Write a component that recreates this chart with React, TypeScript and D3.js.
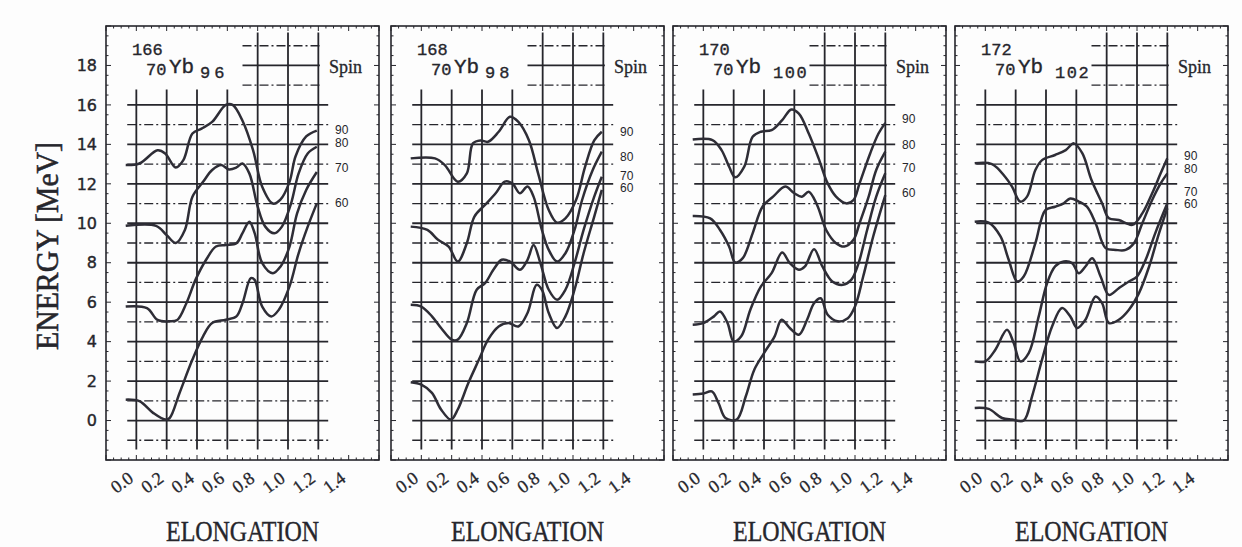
import React from "react";
import * as d3 from "d3";

// ---------- data (energy in MeV vs elongation) ----------
type Pt = [number, number];

const elongTicks = [0.0, 0.2, 0.4, 0.6, 0.8, 1.0, 1.2, 1.4];
const energyTicks = [0, 2, 4, 6, 8, 10, 12, 14, 16, 18];
const gridX = [0.0, 0.2, 0.4, 0.6, 0.8, 1.0, 1.2];
const spins = [90, 80, 70, 60];

// 166Yb96
const yb166_s90: Pt[] = [[-0.07,12.95],[0.02,13.03],[0.14,13.7],[0.19,13.54],[0.26,12.83],[0.31,13.2],[0.37,14.55],[0.43,14.8],[0.5,15.14],[0.59,16.0],[0.635,16.0],[0.7,15.2],[0.77,13.7],[0.83,11.85],[0.9,11.0],[0.95,11.2],[1.01,12.1],[1.05,13.4],[1.12,14.4],[1.19,14.7]];
const yb166_s80: Pt[] = [[-0.07,9.87],[0.13,9.87],[0.2,9.4],[0.26,9.0],[0.32,9.66],[0.37,11.35],[0.44,12.1],[0.5,12.7],[0.56,12.95],[0.61,12.73],[0.66,12.83],[0.7,13.03],[0.745,12.53],[0.8,10.84],[0.85,9.83],[0.91,9.49],[0.96,9.83],[1.02,11.0],[1.07,12.53],[1.13,13.54],[1.19,13.88]];
const yb166_s70: Pt[] = [[-0.07,5.78],[0.07,5.7],[0.14,5.1],[0.22,5.03],[0.27,5.1],[0.33,5.95],[0.39,7.13],[0.46,8.15],[0.525,8.82],[0.59,8.9],[0.66,8.99],[0.7,9.5],[0.745,10.08],[0.78,9.5],[0.83,7.98],[0.9,7.47],[0.95,7.8],[1.01,8.82],[1.06,10.5],[1.12,11.69],[1.19,12.6]];
const yb166_s60: Pt[] = [[-0.07,1.06],[0.02,0.98],[0.11,0.39],[0.19,0.05],[0.22,0.13],[0.285,1.4],[0.37,3.09],[0.44,4.27],[0.5,4.94],[0.59,5.11],[0.66,5.28],[0.7,5.95],[0.755,7.22],[0.78,7.13],[0.83,5.78],[0.89,5.28],[0.94,5.62],[1.01,6.8],[1.07,8.48],[1.13,9.83],[1.19,11.01]];
const yb166_labels = [14.75, 14.1, 12.82, 11.05];

// 168Yb98
const yb168_s90: Pt[] = [[-0.07,13.29],[0.09,13.29],[0.155,12.95],[0.24,12.11],[0.3,12.53],[0.34,14.05],[0.39,14.2],[0.44,14.13],[0.51,14.64],[0.585,15.4],[0.64,15.14],[0.71,14.2],[0.77,12.53],[0.84,10.67],[0.895,10.03],[0.95,10.25],[1.02,11.18],[1.08,12.87],[1.14,14.2],[1.19,14.64]];
const yb168_s80: Pt[] = [[-0.07,9.83],[0.04,9.66],[0.11,9.16],[0.18,8.82],[0.24,8.06],[0.3,8.99],[0.35,10.34],[0.42,10.93],[0.49,11.52],[0.55,12.11],[0.6,12.02],[0.65,11.52],[0.7,11.86],[0.74,11.35],[0.795,9.66],[0.84,8.65],[0.895,8.06],[0.95,8.48],[1.01,9.66],[1.06,11.18],[1.13,12.7],[1.19,13.63]];
const yb168_s70: Pt[] = [[-0.07,5.87],[0.0,5.78],[0.07,5.28],[0.13,4.69],[0.2,4.1],[0.24,4.1],[0.3,4.94],[0.365,6.63],[0.42,6.96],[0.475,7.64],[0.53,8.15],[0.585,8.06],[0.65,7.64],[0.7,8.15],[0.74,8.9],[0.785,7.98],[0.84,6.63],[0.895,6.12],[0.95,6.63],[1.01,7.98],[1.07,9.66],[1.14,11.35],[1.19,12.36]];
const yb168_s60: Pt[] = [[-0.07,1.94],[0.0,1.82],[0.07,1.4],[0.13,0.56],[0.195,0.05],[0.24,0.56],[0.31,1.9],[0.38,3.09],[0.44,4.1],[0.51,4.77],[0.575,4.94],[0.64,4.77],[0.7,5.45],[0.76,6.88],[0.795,6.63],[0.84,5.45],[0.895,4.69],[0.95,5.28],[1.01,6.63],[1.07,8.48],[1.14,10.34],[1.19,11.69]];
const yb168_labels = [14.65, 13.38, 12.42, 11.8];

// 170Yb100
const yb170_s90: Pt[] = [[-0.07,14.25],[0.06,14.22],[0.12,13.71],[0.17,12.87],[0.21,12.33],[0.27,12.87],[0.325,14.38],[0.38,14.64],[0.45,14.72],[0.52,15.23],[0.58,15.77],[0.63,15.56],[0.695,14.55],[0.76,13.29],[0.82,12.02],[0.875,11.35],[0.94,11.01],[0.99,11.18],[1.03,12.02],[1.1,13.54],[1.155,14.55],[1.2,15.09]];
const yb170_s80: Pt[] = [[-0.07,10.37],[0.045,10.25],[0.11,9.66],[0.17,8.82],[0.21,8.01],[0.26,8.23],[0.325,9.49],[0.39,10.84],[0.46,11.35],[0.54,11.86],[0.6,11.52],[0.65,11.35],[0.695,11.6],[0.75,10.93],[0.81,9.66],[0.875,8.99],[0.93,8.82],[0.99,9.16],[1.03,10.0],[1.09,11.35],[1.14,12.7],[1.2,13.63]];
const yb170_s70: Pt[] = [[-0.07,4.86],[0.0,4.94],[0.07,5.28],[0.11,5.53],[0.16,4.94],[0.2,4.01],[0.25,4.27],[0.31,5.62],[0.38,6.8],[0.45,7.47],[0.52,8.52],[0.57,7.98],[0.63,7.64],[0.67,7.81],[0.73,8.68],[0.785,7.81],[0.85,7.05],[0.92,6.88],[0.975,7.13],[1.02,7.89],[1.08,9.66],[1.14,11.35],[1.2,12.53]];
const yb170_s60: Pt[] = [[-0.07,1.32],[0.0,1.37],[0.056,1.48],[0.1,0.89],[0.146,0.13],[0.22,0.05],[0.28,1.23],[0.336,2.58],[0.4,3.42],[0.47,4.27],[0.516,5.11],[0.57,4.69],[0.63,4.35],[0.684,5.11],[0.73,5.95],[0.774,6.2],[0.82,5.36],[0.886,5.03],[0.953,5.19],[1.0,5.78],[1.054,7.3],[1.12,9.33],[1.2,11.43]];
const yb170_labels = [15.3, 13.99, 12.82, 11.56];

// 172Yb102
const yb172_s90: Pt[] = [[-0.07,13.04],[0.044,13.0],[0.13,12.36],[0.176,11.86],[0.23,11.1],[0.275,11.35],[0.33,12.7],[0.374,13.2],[0.46,13.46],[0.53,13.71],[0.584,14.05],[0.64,13.54],[0.7,12.19],[0.77,11.01],[0.815,10.25],[0.88,10.17],[0.97,9.92],[1.035,10.5],[1.1,11.52],[1.156,12.53],[1.2,13.29]];
const yb172_s80: Pt[] = [[-0.07,10.08],[0.022,10.03],[0.1,9.33],[0.154,8.15],[0.21,7.05],[0.253,7.3],[0.33,8.99],[0.396,10.67],[0.46,10.84],[0.517,11.01],[0.56,11.26],[0.616,11.1],[0.67,10.84],[0.727,10.0],[0.793,8.74],[0.86,8.65],[0.925,8.65],[0.98,8.99],[1.035,10.0],[1.1,11.18],[1.156,12.02],[1.2,12.53]];
const yb172_s70: Pt[] = [[-0.07,3.0],[0.0,3.0],[0.066,3.59],[0.143,4.6],[0.187,3.93],[0.231,3.0],[0.286,3.42],[0.352,5.28],[0.407,6.96],[0.46,7.81],[0.517,8.06],[0.572,7.98],[0.616,7.47],[0.66,7.81],[0.705,8.23],[0.76,7.3],[0.815,6.37],[0.88,6.71],[0.947,7.05],[1.0,7.3],[1.057,8.15],[1.12,9.49],[1.2,11.01]];
const yb172_s60: Pt[] = [[-0.07,0.64],[0.022,0.59],[0.11,0.13],[0.176,0.05],[0.253,0.0],[0.308,1.23],[0.374,3.09],[0.44,4.77],[0.506,5.7],[0.56,5.28],[0.605,4.69],[0.66,5.11],[0.727,6.29],[0.77,5.95],[0.815,4.94],[0.88,5.11],[0.947,5.62],[1.013,6.46],[1.08,7.81],[1.145,9.49],[1.2,10.76]];
const yb172_labels = [13.4, 12.78, 11.62, 11.0];

const nuclei = [
  { A: "166", Z: "70", N: "96", curves: [yb166_s90, yb166_s80, yb166_s70, yb166_s60], labels: yb166_labels },
  { A: "168", Z: "70", N: "98", curves: [yb168_s90, yb168_s80, yb168_s70, yb168_s60], labels: yb168_labels },
  { A: "170", Z: "70", N: "100", curves: [yb170_s90, yb170_s80, yb170_s70, yb170_s60], labels: yb170_labels },
  { A: "172", Z: "70", N: "102", curves: [yb172_s90, yb172_s80, yb172_s70, yb172_s60], labels: yb172_labels },
];

// ---------- layout ----------
const W = 1242, H = 547;
const panelLefts = [106, 391, 673, 955];
const panelW = 273;
const frameTop = 26, frameBottom = 460;
const ink = "#26262c";

function Panel({ idx }: { idx: number }) {
  const nuc = nuclei[idx];
  const left = panelLefts[idx];
  const x = d3.scaleLinear().domain([-0.2, 1.6]).range([left, left + panelW]);
  const y = d3.scaleLinear().domain([-2, 20]).range([frameBottom, frameTop]);
  const line = d3.line<Pt>().x(d => x(d[0])).y(d => y(d[1])).curve(d3.curveCatmullRom.alpha(0.5));

  const hVals = d3.range(-1, 17);
  const topVals = [17, 18, 19];
  const dash = "9 3 2 3";

  const leftTicks = d3.range(-2, 20.01, 0.5);
  const topTicks = d3.range(-0.2, 1.601, 0.05);

  return (
    <g>
      {/* frame */}
      <rect x={left} y={frameTop} width={panelW} height={frameBottom - frameTop} fill="none" stroke={ink} strokeWidth={1.6} />
      {leftTicks.map((v, i) => {
        const major = Math.abs(v % 2) < 1e-6;
        const len = major ? 5 : 2.5;
        return (
          <g key={"lt" + i}>
            <line x1={left} x2={left + len} y1={y(v)} y2={y(v)} stroke={ink} strokeWidth={1} />
            <line x1={left + panelW} x2={left + panelW - len} y1={y(v)} y2={y(v)} stroke={ink} strokeWidth={1} />
          </g>
        );
      })}
      {topTicks.map((v, i) => {
        const major = Math.abs(Math.round(v * 100) % 20) < 1e-6;
        const len = major ? 5 : 2.5;
        return (
          <g key={"tt" + i}>
            <line x1={x(v)} x2={x(v)} y1={frameTop} y2={frameTop + len} stroke={ink} strokeWidth={1} />
            <line x1={x(v)} x2={x(v)} y1={frameBottom} y2={frameBottom - len} stroke={ink} strokeWidth={1} />
          </g>
        );
      })}

      {/* horizontal grid */}
      {hVals.map(v => (
        <line key={"h" + v} x1={x(-0.06)} x2={x(1.265)} y1={y(v)} y2={y(v)}
          stroke={ink} strokeWidth={v % 2 === 0 ? 1.8 : 1.3}
          strokeDasharray={v % 2 === 0 ? undefined : dash} />
      ))}
      {topVals.map(v => (
        <line key={"t" + v} x1={x(0.7)} x2={x(1.21)} y1={y(v)} y2={y(v)}
          stroke={ink} strokeWidth={v % 2 === 0 ? 1.8 : 1.3}
          strokeDasharray={v % 2 === 0 ? undefined : dash} />
      ))}
      {/* vertical grid */}
      {gridX.map(g => (
        <line key={"v" + g} x1={x(g)} x2={x(g)} y1={y(-1.47)} y2={y(g <= 0.61 ? 16.78 : 19.67)}
          stroke={ink} strokeWidth={1.8} />
      ))}

      {/* curves */}
      {nuc.curves.map((c, i) => (
        <path key={"c" + i} d={line(c) || ""} fill="none" stroke="#2e2d36" strokeWidth={2.5} />
      ))}

      {/* spin labels */}
      <text x={left + 223} y={73} fontFamily="'Liberation Serif', serif" fontSize={18} fill={ink} stroke={ink} strokeWidth={0.3}>Spin</text>
      {nuc.labels.map((e, i) => (
        <text key={"s" + i} x={left + 229} y={y(e)} dy="0.35em" fontFamily="'Liberation Sans', sans-serif" fontSize={12} fill={ink}>
          {spins[i]}
        </text>
      ))}

      {/* nucleus title */}
      <g fontFamily="'Liberation Mono', monospace" fill={ink} stroke={ink} strokeWidth={0.35}>
        <text x={left + 26} y={55} fontSize={17}>{nuc.A}</text>
        <text x={left + 40} y={75} fontSize={17}>{nuc.Z}</text>
        <text x={left + 63} y={73} fontSize={21}>Yb</text>
        <text x={left + (nuc.N.length === 2 ? 94 : 100)} y={78} fontSize={17} letterSpacing={nuc.N.length === 2 ? 4 : 1.5}>{nuc.N}</text>
      </g>

      {/* x tick labels */}
      {elongTicks.map(t => (
        <text key={"xl" + t} transform={`translate(${x(t) - 20},${494}) rotate(-36)`}
          fontFamily="'Liberation Serif', serif" fontSize={18} fill={ink} stroke={ink} strokeWidth={0.3}>
          {t.toFixed(1)}
        </text>
      ))}
      <text x={left + panelW / 2} y={541} textAnchor="middle" fontFamily="'Liberation Serif', serif"
        fontSize={30} textLength={153} lengthAdjust="spacingAndGlyphs" fill={ink} stroke={ink} strokeWidth={0.4}>ELONGATION</text>
    </g>
  );
}

export default function App() {
  const yAxis = d3.scaleLinear().domain([-2, 20]).range([frameBottom, frameTop]);
  return (
    <svg width={W} height={H} style={{ position: "absolute", left: 0, top: 0, background: "#fdfdfd" }}>
      <rect x={0} y={0} width={W} height={H} fill="#fdfdfd" />
      {energyTicks.map(v => (
        <text key={"yl" + v} x={97} y={yAxis(v)} dy="0.36em" textAnchor="end"
          fontFamily="'DejaVu Sans', sans-serif" fontSize={16} fill={ink} stroke={ink} strokeWidth={0.4}>{v}</text>
      ))}
      <text transform={`translate(58,246) rotate(-90)`} textAnchor="middle"
        fontFamily="'Liberation Serif', serif" fontSize={31} textLength={208} lengthAdjust="spacingAndGlyphs"
        fill={ink} stroke={ink} strokeWidth={0.5}>
        ENERGY [MeV]
      </text>
      {nuclei.map((_, i) => <Panel key={i} idx={i} />)}
    </svg>
  );
}
